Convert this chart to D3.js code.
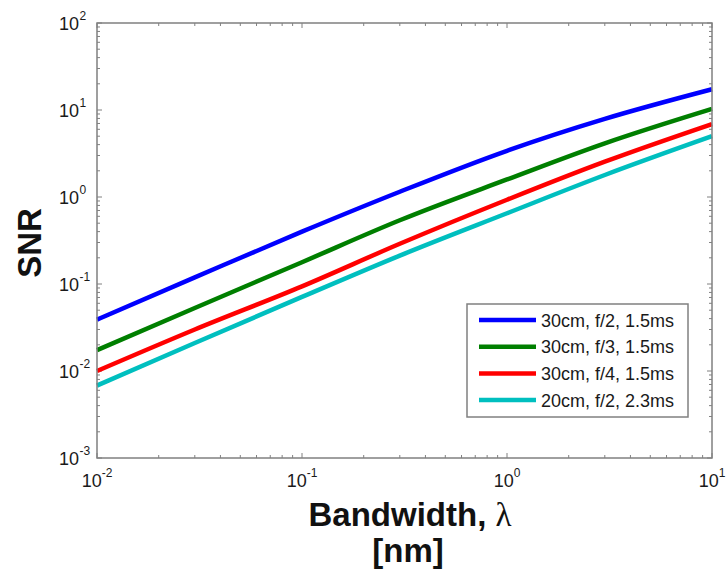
<!DOCTYPE html>
<html><head><meta charset="utf-8">
<script src="https://cdn.jsdelivr.net/npm/d3@7"></script>
<style>body{margin:0;background:#fff}svg{display:block}</style>
</head><body>
<svg id="chart" width="727" height="571"></svg>
<script>
// ---- data ----
const bandwidth = [0.01, 0.03, 0.1, 0.3, 1, 3, 10];
const snr30f2 = [0.039, 0.119, 0.40, 1.15, 3.4, 7.9, 17.3];
const snr30f3 = [0.0174, 0.053, 0.178, 0.54, 1.59, 4.14, 10.3];
const snr30f4 = [0.0100, 0.030, 0.094, 0.29, 0.93, 2.55, 6.9];
const snr20f2 = [0.0068, 0.0210, 0.071, 0.212, 0.65, 1.79, 5.0];
const seriesNames = ["30cm, f/2, 1.5ms", "30cm, f/3, 1.5ms", "30cm, f/4, 1.5ms", "20cm, f/2, 2.3ms"];
const seriesColors = ["#0000ff", "#007f00", "#ff0000", "#00bfbf"];
const xTicks = [0.01, 0.1, 1, 10];
const xTickExps = ["-2", "-1", "0", "1"];
const yTicks = [1e-3, 1e-2, 1e-1, 1, 10, 100];
const yTickExps = ["-3", "-2", "-1", "0", "1", "2"];
const xTitle = "Bandwidth, ";
const xTitleSym = "λ";
const xTitle2 = "[nm]";
const yTitle = "SNR";

const allSeries = [snr30f2, snr30f3, snr30f4, snr20f2];

const svg = d3.select("#chart");
const L = 97, R = 712, T = 23, B = 458;
const x = d3.scaleLog().domain([0.01, 10]).range([L, R]);
const y = d3.scaleLog().domain([1e-3, 100]).range([B, T]);
const axisCol = "#808080";
const font = "Liberation Sans, Arial, sans-serif";

function minorTicks(lo, hi) {
  const out = [];
  for (let e = Math.round(Math.log10(lo)); e < Math.round(Math.log10(hi)); e++)
    for (let k = 2; k <= 9; k++) out.push(k * Math.pow(10, e));
  return out;
}
const g = svg.append("g");
const xMinor = minorTicks(0.01, 10), yMinor = minorTicks(1e-3, 100);
const tickG = g.append("g").attr("stroke", axisCol).attr("stroke-width", 1);
function xt(vals, len) {
  vals.forEach(v => {
    tickG.append("line").attr("x1", x(v)).attr("x2", x(v)).attr("y1", B).attr("y2", B - len);
    tickG.append("line").attr("x1", x(v)).attr("x2", x(v)).attr("y1", T).attr("y2", T + len);
  });
}
function yt(vals, len) {
  vals.forEach(v => {
    tickG.append("line").attr("y1", y(v)).attr("y2", y(v)).attr("x1", L).attr("x2", L + len);
    tickG.append("line").attr("y1", y(v)).attr("y2", y(v)).attr("x1", R).attr("x2", R - len);
  });
}
xt(xMinor, 3); xt(xTicks, 5); yt(yMinor, 3); yt(yTicks, 5);

// curves
const line = d3.line().x((d, i) => x(bandwidth[i])).y(d => y(d)).curve(d3.curveMonotoneX);
allSeries.forEach((s, i) => {
  g.append("path").datum(s).attr("d", line).attr("fill", "none")
    .attr("stroke", seriesColors[i]).attr("stroke-width", 4.5).attr("stroke-linejoin", "round");
});

// box
g.append("rect").attr("x", L).attr("y", T).attr("width", R - L).attr("height", B - T)
  .attr("fill", "none").attr("stroke", axisCol).attr("stroke-width", 1.5);

// tick labels
const tl = svg.append("g").attr("font-family", font).attr("fill", "#1a1a1a");
xTicks.forEach((v, i) => {
  const t = tl.append("text").attr("x", x(v)).attr("y", B + 29).attr("text-anchor", "middle").attr("font-size", 18);
  t.append("tspan").text("10");
  t.append("tspan").attr("dy", -10).attr("font-size", 12).text(xTickExps[i]);
});
yTicks.forEach((v, i) => {
  tl.append("text").attr("x", 79).attr("y", y(v) + 7).attr("text-anchor", "end").attr("font-size", 18).text("10");
  tl.append("text").attr("x", 79.5).attr("y", y(v) - 3).attr("text-anchor", "start").attr("font-size", 12).text(yTickExps[i]);
});

// axis titles
const xt1 = svg.append("text").attr("x", 410).attr("y", 526).attr("text-anchor", "middle")
  .attr("font-family", font).attr("font-size", 33).attr("font-weight", "bold").attr("fill", "#111");
xt1.append("tspan").text(xTitle);
xt1.append("tspan").attr("font-weight", "normal").attr("font-family", "Liberation Serif, Times New Roman, serif").text(xTitleSym);
svg.append("text").attr("x", 408).attr("y", 562).attr("text-anchor", "middle")
  .attr("font-family", font).attr("font-size", 33).attr("font-weight", "bold").attr("fill", "#111").text(xTitle2);
svg.append("text").attr("transform", "translate(41,243) rotate(-90)").attr("text-anchor", "middle")
  .attr("font-family", font).attr("font-size", 33).attr("font-weight", "bold").attr("fill", "#111").text(yTitle);

// legend
const lg = svg.append("g");
lg.append("rect").attr("x", 467).attr("y", 304).attr("width", 221).attr("height", 113)
  .attr("fill", "#fff").attr("stroke", axisCol).attr("stroke-width", 1.5);
seriesNames.forEach((n, i) => {
  const yy = 320 + i * 26.7;
  lg.append("line").attr("x1", 479).attr("x2", 536).attr("y1", yy).attr("y2", yy)
    .attr("stroke", seriesColors[i]).attr("stroke-width", 4.5);
  lg.append("text").attr("x", 541).attr("y", yy + 6.5).attr("font-family", font).attr("font-size", 18)
    .attr("fill", "#1a1a1a").text(n);
});
</script>
</body></html>
